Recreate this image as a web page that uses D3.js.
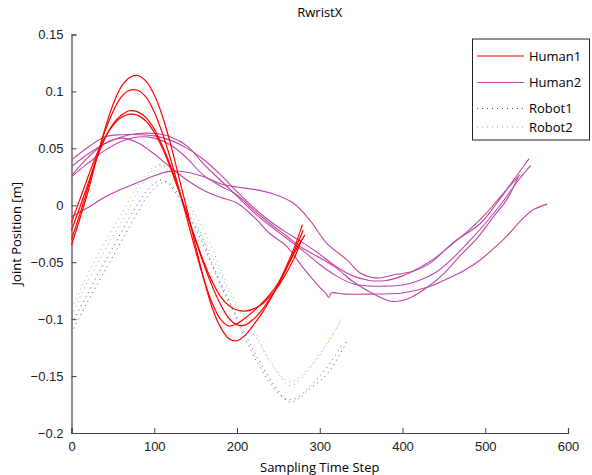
<!DOCTYPE html>
<html>
<head>
<meta charset="utf-8">
<script src="https://cdn.jsdelivr.net/npm/d3@7"></script>
<style>
  body { margin: 0; background: #fff; }
  svg { font-family: "Open Sans", sans-serif; }
  .axis path, .axis line { stroke: #444; }
  .axis text { font-size: 13px; fill: #222; }
</style>
</head>
<body>
<script>
var xTicks = [0, 100, 200, 300, 400, 500, 600];
var yTicks = [-0.2, -0.15, -0.1, -0.05, 0, 0.05, 0.1, 0.15];
var seriesNames = ["Human1", "Human2", "Robot1", "Robot2"];

// Human1: four red trials [time step, position]
var human1A = [[0,-0.035],[10,-0.012],[20,0.012],[30,0.040],[40,0.066],[50,0.088],[60,0.104],[70,0.112],[80,0.114],[90,0.109],[100,0.097],[110,0.078],[120,0.053],[130,0.024],[140,-0.005],[150,-0.036],[160,-0.065],[170,-0.090],[180,-0.107],[190,-0.117],[200,-0.119],[210,-0.114],[220,-0.105],[230,-0.095],[240,-0.083],[250,-0.069],[260,-0.053],[270,-0.036],[279,-0.017]];
var human1B = [[0,-0.030],[10,-0.008],[20,0.016],[30,0.041],[40,0.064],[50,0.082],[60,0.095],[70,0.101],[80,0.101],[90,0.095],[100,0.082],[110,0.063],[120,0.040],[130,0.014],[140,-0.013],[150,-0.040],[160,-0.065],[170,-0.086],[180,-0.100],[190,-0.106],[200,-0.104],[210,-0.099],[220,-0.093],[230,-0.086],[240,-0.078],[250,-0.068],[260,-0.055],[270,-0.041],[282,-0.026]];
var human1C = [[0,-0.022],[10,-0.002],[20,0.019],[30,0.040],[40,0.058],[50,0.071],[60,0.079],[70,0.083],[80,0.082],[90,0.077],[100,0.067],[110,0.052],[120,0.034],[130,0.013],[140,-0.009],[150,-0.031],[160,-0.052],[170,-0.071],[180,-0.087],[190,-0.099],[200,-0.105],[210,-0.105],[220,-0.100],[230,-0.092],[240,-0.082],[250,-0.070],[260,-0.055],[270,-0.039],[280,-0.022]];
var human1D = [[0,-0.015],[10,0.005],[20,0.025],[30,0.044],[40,0.059],[50,0.070],[60,0.077],[70,0.080],[80,0.079],[90,0.074],[100,0.064],[110,0.050],[120,0.032],[130,0.012],[140,-0.009],[150,-0.030],[160,-0.050],[170,-0.067],[180,-0.080],[190,-0.088],[200,-0.092],[210,-0.093],[220,-0.091],[230,-0.087],[240,-0.080],[250,-0.071],[260,-0.059],[270,-0.045],[278,-0.030]];

// Human2: five magenta trials
var human2A = [[0,0.040],[20,0.051],[40,0.060],[60,0.062],[80,0.062],[100,0.061],[120,0.057],[140,0.050],[160,0.040],[180,0.027],[200,0.012],[220,-0.002],[240,-0.014],[260,-0.024],[280,-0.033],[300,-0.043],[320,-0.054],[340,-0.062],[360,-0.066],[380,-0.066],[400,-0.062],[420,-0.055],[440,-0.046],[460,-0.034],[480,-0.022],[500,-0.008],[520,0.009],[542,0.027]];
var human2B = [[0,0.034],[20,0.045],[40,0.054],[60,0.060],[80,0.063],[100,0.063],[120,0.060],[140,0.052],[160,0.036],[180,0.022],[200,0.008],[220,-0.006],[240,-0.018],[260,-0.029],[280,-0.040],[300,-0.052],[320,-0.062],[340,-0.069],[360,-0.071],[380,-0.071],[400,-0.070],[420,-0.066],[440,-0.059],[460,-0.047],[480,-0.032],[500,-0.016],[520,0.002],[540,0.022],[555,0.035]];
var human2C = [[0,0.025],[20,0.037],[40,0.048],[60,0.056],[80,0.060],[100,0.059],[120,0.053],[140,0.041],[160,0.026],[180,0.017],[200,0.009],[220,-0.004],[240,-0.016],[260,-0.027],[280,-0.038],[300,-0.046],[320,-0.055],[340,-0.067],[360,-0.076],[380,-0.083],[390,-0.0845],[410,-0.081],[430,-0.072],[450,-0.060],[470,-0.044],[490,-0.029],[510,-0.010],[526,0.005],[540,0.025]];
var human2D = [[0,0.026],[20,0.042],[40,0.054],[60,0.059],[80,0.055],[100,0.045],[120,0.033],[140,0.022],[160,0.013],[180,0.007],[200,0.002],[220,-0.010],[240,-0.025],[260,-0.036],[280,-0.055],[300,-0.072],[308,-0.078],[311,-0.081],[314,-0.077],[330,-0.078],[360,-0.078],[400,-0.077],[430,-0.072],[453,-0.065],[475,-0.057],[494,-0.048],[510,-0.038],[526,-0.027],[545,-0.012],[558,-0.004],[575,0.001]];
var human2E = [[0,-0.010],[20,-0.002],[40,0.007],[60,0.014],[80,0.020],[100,0.026],[120,0.030],[140,0.029],[160,0.025],[180,0.019],[200,0.016],[220,0.014],[244,0.010],[268,0.002],[288,-0.013],[308,-0.033],[333,-0.048],[350,-0.060],[370,-0.064],[390,-0.061],[413,-0.058],[433,-0.051],[461,-0.033],[494,-0.016],[514,0.002],[534,0.022],[553,0.041]];

// Robot1 (blue) and Robot2 (green): two dotted runs each
var robot1A = [[0,-0.112],[10,-0.098],[20,-0.084],[30,-0.071],[40,-0.058],[50,-0.045],[60,-0.032],[70,-0.019],[80,-0.006],[90,0.006],[100,0.015],[110,0.020],[115,0.021],[125,0.014],[139,-0.004],[150,-0.018],[159,-0.030],[167,-0.046],[179,-0.066],[196,-0.092],[212,-0.116],[228,-0.138],[248,-0.161],[264,-0.173],[276,-0.169],[290,-0.160],[304,-0.152],[316,-0.141],[334,-0.118]];
var robot1B = [[0,-0.104],[10,-0.091],[20,-0.077],[30,-0.063],[40,-0.050],[50,-0.037],[60,-0.024],[70,-0.011],[80,0.001],[90,0.012],[100,0.019],[108,0.022],[118,0.018],[130,0.006],[142,-0.010],[155,-0.028],[168,-0.050],[180,-0.070],[195,-0.093],[210,-0.117],[226,-0.140],[244,-0.160],[258,-0.170],[270,-0.170],[284,-0.162],[300,-0.150],[314,-0.137],[328,-0.121]];
var robot2A = [[0,-0.097],[10,-0.081],[20,-0.066],[30,-0.053],[40,-0.040],[50,-0.027],[60,-0.015],[70,-0.002],[80,0.012],[90,0.023],[100,0.032],[107,0.036],[115,0.033],[120,0.028],[131,0.014],[140,0.003],[151,-0.010],[160,-0.022],[167,-0.033],[179,-0.054],[191,-0.074],[204,-0.092],[220,-0.109],[236,-0.133],[252,-0.150],[262,-0.158],[270,-0.157],[280,-0.150],[296,-0.136],[312,-0.118],[328,-0.098]];
var robot2B = [[0,-0.090],[10,-0.075],[20,-0.060],[30,-0.046],[40,-0.033],[50,-0.020],[60,-0.008],[70,0.005],[80,0.017],[90,0.027],[100,0.034],[110,0.035],[120,0.026],[130,0.014],[140,0.000],[150,-0.014],[160,-0.030],[172,-0.048],[185,-0.068],[198,-0.087],[214,-0.105],[230,-0.125],[246,-0.143],[256,-0.152],[266,-0.155],[276,-0.151],[290,-0.140],[306,-0.124],[320,-0.108],[326,-0.100]];

var human1 = [human1A, human1B, human1C, human1D];
var human2 = [human2A, human2B, human2C, human2D, human2E];
var robot1 = [robot1A, robot1B];
var robot2 = [robot2A, robot2B];

var width = 592, height = 475;
var margin = {left: 71.5, right: 24, top: 34.5, bottom: 42};

var x = d3.scaleLinear().domain([0, 600]).range([margin.left, width - margin.right]);
var y = d3.scaleLinear().domain([-0.2, 0.15]).range([height - margin.bottom, margin.top]);

var svg = d3.select("body").append("svg")
  .attr("width", width)
  .attr("height", height);

var line = d3.line()
  .x(function(d) { return x(d[0]); })
  .y(function(d) { return y(d[1]); })
  .curve(d3.curveCatmullRom);

// axes (MATLAB style, ticks pointing inward, no box)
svg.append("g").attr("class", "axis")
  .attr("transform", "translate(0," + y(-0.2) + ")")
  .call(d3.axisBottom(x).tickValues(xTicks).tickSize(-5).tickPadding(9).tickFormat(d3.format("d")));

svg.append("g").attr("class", "axis")
  .attr("transform", "translate(" + x(0) + ",0)")
  .call(d3.axisLeft(y).tickValues(yTicks).tickSize(-5).tickPadding(8).tickFormat(d3.format("~g")));

svg.selectAll(".axis .domain").attr("stroke-width", 1.2);

// series
var layers = [
  {data: robot1, color: "#3553c8", dash: "1,4", w: 1},
  {data: robot2, color: "#74cc55", dash: "1,4", w: 1},
  {data: human2, color: "#c045a8", dash: null, w: 1.1},
  {data: human1, color: "#ff0000", dash: null, w: 1.2}
];

layers.forEach(function(layer) {
  svg.append("g").selectAll("path")
    .data(layer.data)
    .enter()
    .append("path")
    .attr("d", line)
    .attr("fill", "none")
    .attr("stroke", layer.color)
    .attr("stroke-width", layer.w)
    .attr("stroke-dasharray", layer.dash);
});

// title and labels
svg.append("text")
  .attr("x", (x(0) + x(600)) / 2)
  .attr("y", 17)
  .attr("text-anchor", "middle")
  .style("font-size", "13px")
  .text("RwristX");

svg.append("text")
  .attr("x", (x(0) + x(600)) / 2)
  .attr("y", 472)
  .attr("text-anchor", "middle")
  .style("font-size", "13px")
  .text("Sampling Time Step");

svg.append("text")
  .attr("transform", "translate(21," + ((y(0.15) + y(-0.2)) / 2) + ") rotate(-90)")
  .attr("text-anchor", "middle")
  .style("font-size", "13px")
  .text("Joint Position [m]");

// legend
var legendColors = ["#ff0000", "#c045a8", "#3553c8", "#74cc55"];
var legendDash = [null, null, "1,4", "1,4"];
var legendY = [56, 82.5, 108.5, 127];

var legend = svg.append("g");
legend.append("rect")
  .attr("x", 472.5).attr("y", 39)
  .attr("width", 117).attr("height", 101)
  .attr("fill", "#fff")
  .attr("stroke", "#222")
  .attr("stroke-width", 1);

var items = legend.selectAll("g.item")
  .data(seriesNames)
  .enter()
  .append("g")
  .attr("class", "item")
  .attr("transform", function(d, i) { return "translate(0," + legendY[i] + ")"; });

items.append("line")
  .attr("x1", 477).attr("x2", 524)
  .attr("stroke", function(d, i) { return legendColors[i]; })
  .attr("stroke-width", 1.1)
  .attr("stroke-dasharray", function(d, i) { return legendDash[i]; });

items.append("text")
  .attr("x", 529)
  .attr("dy", "0.35em")
  .style("font-size", "13px")
  .text(function(d) { return d; });
</script>
</body>
</html>
